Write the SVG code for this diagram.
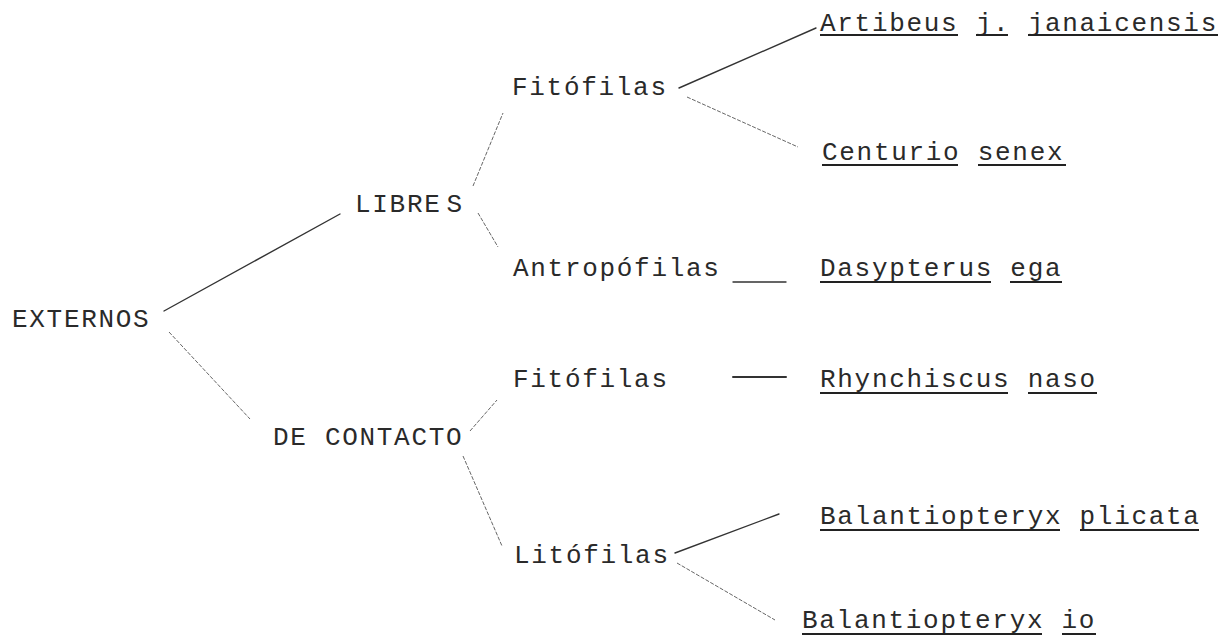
<svg xmlns="http://www.w3.org/2000/svg" width="1223" height="642" viewBox="0 0 1223 642">
<style>
.t{font-family:"Liberation Mono","DejaVu Sans Mono",monospace;font-size:26px;letter-spacing:1.7px;fill:#2a2a2a}
.ln{stroke:#333;stroke-width:1.4;fill:none;stroke-linecap:round}
.fl{stroke:#666;stroke-width:1;fill:none;stroke-dasharray:4 1.5}
.ul{stroke:#222;stroke-width:2;fill:none}
</style>
<rect width="1223" height="642" fill="#fff"/>
<g id="connectors">
<line class="ln" x1="164" y1="311" x2="340" y2="214"/>
<line class="fl" x1="169" y1="332" x2="250" y2="419"/>
<line class="fl" x1="473" y1="186" x2="503" y2="113"/>
<line class="fl" x1="478" y1="213" x2="498" y2="247"/>
<line class="ln" x1="679" y1="88" x2="816" y2="28"/>
<line class="fl" x1="687" y1="97" x2="798" y2="147"/>
<line class="ln" x1="733" y1="282" x2="786" y2="282"/>
<line class="fl" x1="470" y1="431" x2="497" y2="400"/>
<line class="fl" x1="463" y1="456" x2="502" y2="546"/>
<line class="ln" x1="733" y1="377" x2="786" y2="377" style="stroke-width:2"/>
<line class="ln" x1="675" y1="553" x2="779" y2="514"/>
<line class="fl" x1="677" y1="563" x2="775" y2="620"/>
</g>
<g id="externos"><text class="t" x="12" y="327">EXTERNOS</text></g>
<g id="libres"><text class="t" x="355" y="212">LIBRE<tspan dx="5">S</tspan></text></g>
<g id="de-contacto"><text class="t" x="273" y="445">DE CONTACTO</text></g>
<g id="fitofilas-1"><text class="t" x="512" y="95">Fitófilas</text></g>
<g id="antropofilas"><text class="t" x="513" y="276">Antropófilas</text></g>
<g id="fitofilas-2"><text class="t" x="513" y="387">Fitófilas</text></g>
<g id="litofilas"><text class="t" x="514" y="563">Litófilas</text></g>
<g id="artibeus"><text class="t" x="820" y="31">Artibeus j. janaicensis</text>
<path class="ul" d="M820 35H958M976 35H1008M1028 35H1218"/></g>
<g id="centurio"><text class="t" x="822" y="160">Centurio senex</text>
<path class="ul" d="M822 165H958M978 165H1066"/></g>
<g id="dasypterus"><text class="t" x="820" y="276">Dasypterus ega</text>
<path class="ul" d="M820 282H991M1010 282H1062"/></g>
<g id="rhynchiscus"><text class="t" x="820" y="387">Rhynchiscus naso</text>
<path class="ul" d="M820 393H1008M1028 393H1097"/></g>
<g id="plicata"><text class="t" x="820" y="524">Balantiopteryx plicata</text>
<path class="ul" d="M820 530H1060M1080 530H1199"/></g>
<g id="io"><text class="t" x="802" y="628">Balantiopteryx io</text>
<path class="ul" d="M802 634H1042M1062 634H1096"/></g>
</svg>
